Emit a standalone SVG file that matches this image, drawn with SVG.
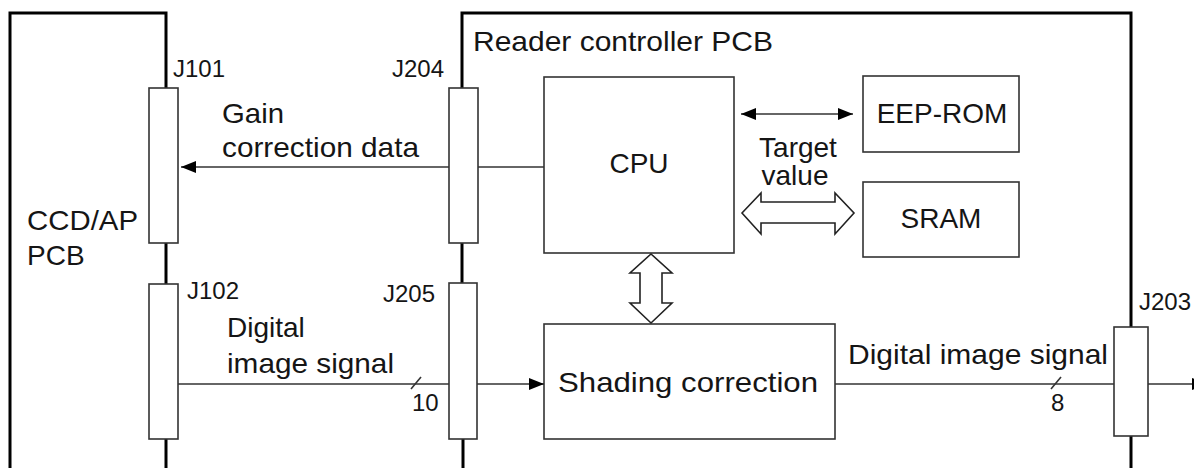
<svg xmlns="http://www.w3.org/2000/svg" width="1194" height="468" viewBox="0 0 1194 468">
<style>
.pcb{fill:none;stroke:#000;stroke-width:3}
.box{fill:#fff;stroke:#333;stroke-width:1.6}
.ln{fill:none;stroke:#333;stroke-width:1.6}
.hol{fill:#fff;stroke:#222;stroke-width:1.6;stroke-linejoin:miter}
text{font-family:"Liberation Sans",Arial,Helvetica,sans-serif;fill:#151515}
.t{font-size:28px}
.j{font-size:24px}
.n{font-size:24px}
</style>
<defs>
<marker id="ah" markerWidth="16" markerHeight="14" refX="15" refY="7" orient="auto-start-reverse" markerUnits="userSpaceOnUse">
<path d="M0,1 L15,7 L0,13 Z" fill="#000"/>
</marker>
</defs>
<rect width="1194" height="468" fill="#fff"/>

<g id="ccd-ap-pcb">
<path class="pcb" d="M10,468 V13 H166 V88"/>
<path class="pcb" d="M166,243 V284"/>
<path class="pcb" d="M166,439 V468"/>
<text class="t" x="27" y="230" textLength="111" lengthAdjust="spacingAndGlyphs">CCD/AP</text>
<text class="t" x="27" y="265">PCB</text>
</g>

<g id="reader-controller-pcb">
<path class="pcb" d="M462,88 V13 H1131 V327"/>
<path class="pcb" d="M462,243 V283"/>
<path class="pcb" d="M463,439 V468"/>
<path class="pcb" d="M1131,436 V468"/>
<text class="t" x="473" y="51" textLength="300" lengthAdjust="spacingAndGlyphs">Reader controller PCB</text>
</g>

<g id="J101"><rect class="box" x="149" y="88" width="29" height="155"/><text class="j" x="173" y="77">J101</text></g>
<g id="J102"><rect class="box" x="149" y="284" width="29" height="155"/><text class="j" x="187" y="299">J102</text></g>
<g id="J204"><rect class="box" x="449" y="88" width="29" height="155"/><text class="j" x="392" y="77">J204</text></g>
<g id="J205"><rect class="box" x="449" y="283" width="28" height="156"/><text class="j" x="383" y="302">J205</text></g>
<g id="J203"><rect class="box" x="1114" y="327" width="34" height="109"/><text class="j" x="1139" y="310">J203</text></g>

<g id="cpu"><rect class="box" x="544" y="77" width="190" height="176"/><text class="t" x="639" y="173" text-anchor="middle">CPU</text></g>
<g id="eep-rom"><rect class="box" x="863" y="76" width="156" height="76"/><text class="t" x="942" y="123" text-anchor="middle">EEP-ROM</text></g>
<g id="sram"><rect class="box" x="863" y="182" width="156" height="75"/><text class="t" x="941" y="228" text-anchor="middle">SRAM</text></g>
<g id="shading-correction"><rect class="box" x="544" y="324" width="291" height="115"/><text class="t" x="558" y="392" textLength="260" lengthAdjust="spacingAndGlyphs">Shading correction</text></g>

<g id="connectors">
<line class="ln" x1="449" y1="167" x2="181" y2="167" marker-end="url(#ah)"/>
<line class="ln" x1="478" y1="167" x2="544" y2="167"/>
<line class="ln" x1="741" y1="114" x2="853" y2="114" marker-start="url(#ah)" marker-end="url(#ah)"/>
<polygon class="hol" points="742,213 761,193 761,202 835,202 835,193 854,213 835,234 835,223 761,223 761,234"/>
<polygon class="hol" points="651,254 672,273 662,273 662,303 672,303 651,323 630,303 640,303 640,273 630,273"/>
<line class="ln" x1="178" y1="384" x2="449" y2="384"/>
<line class="ln" x1="477" y1="384" x2="544" y2="384" marker-end="url(#ah)"/>
<line class="ln" x1="835" y1="384" x2="1114" y2="384"/>
<line class="ln" x1="1148" y1="384" x2="1207" y2="384" marker-end="url(#ah)"/>
<line class="ln" x1="411" y1="389" x2="421" y2="377"/>
<line class="ln" x1="1051" y1="389" x2="1061" y2="377"/>
<text class="t" x="222" y="123" textLength="62" lengthAdjust="spacingAndGlyphs">Gain</text>
<text class="t" x="222" y="157" textLength="197" lengthAdjust="spacingAndGlyphs">correction data</text>
<text class="t" x="798" y="157" text-anchor="middle">Target</text>
<text class="t" x="795" y="185" text-anchor="middle">value</text>
<text class="t" x="227" y="337">Digital</text>
<text class="t" x="227" y="373" textLength="167" lengthAdjust="spacingAndGlyphs">image signal</text>
<text class="n" x="412" y="411">10</text>
<text class="t" x="848" y="364" textLength="260" lengthAdjust="spacingAndGlyphs">Digital image signal</text>
<text class="n" x="1051" y="411">8</text>
</g>
</svg>
